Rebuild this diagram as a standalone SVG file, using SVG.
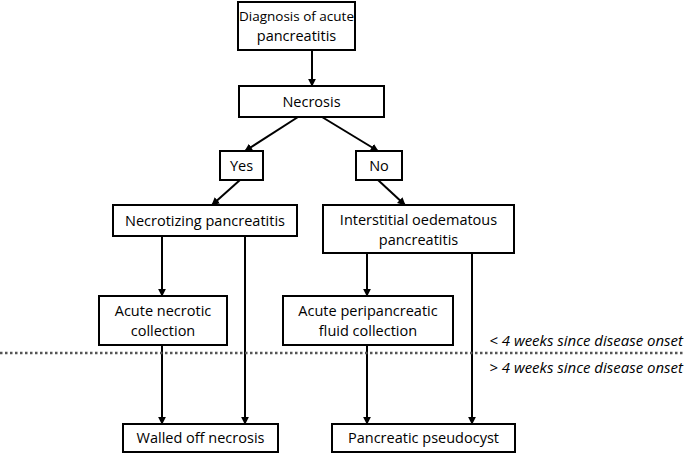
<svg xmlns="http://www.w3.org/2000/svg" width="685" height="453" viewBox="0 0 685 453">
<defs>
<marker id="ah" viewBox="0 0 10 10" refX="9" refY="5" markerWidth="8" markerHeight="8" markerUnits="userSpaceOnUse" orient="auto"><path d="M0,0 L10,5 L0,10 z" fill="#000"/></marker>
<style>
rect{fill:#fff;stroke:#000;stroke-width:2}
text{font-family:"Open Sans","Liberation Sans",sans-serif;font-size:14.5px;text-anchor:middle;fill:#000}
.n{font-style:italic;text-anchor:end;font-size:15px}
#edges line{stroke:#000;stroke-width:2;marker-end:url(#ah)}
</style>
</defs>
<rect x="0" y="0" width="685" height="453" style="fill:#fff;stroke:none"/>
<g id="edges">
<line x1="312" y1="50" x2="312" y2="86"/>
<line x1="298" y1="117" x2="245" y2="151"/>
<line x1="322" y1="117" x2="378" y2="151"/>
<line x1="240" y1="180" x2="212" y2="205"/>
<line x1="378" y1="180" x2="405" y2="205"/>
<line x1="162" y1="236" x2="162" y2="296"/>
<line x1="245" y1="236" x2="245" y2="424"/>
<line x1="367" y1="253" x2="367" y2="296"/>
<line x1="472" y1="253" x2="472" y2="424"/>
<line x1="162" y1="345" x2="162" y2="424"/>
<line x1="367" y1="345" x2="367" y2="424"/>
</g>
<g id="diag"><rect x="238" y="2" width="117" height="48"/><text x="296.5" y="21" style="font-size:13.5px">Diagnosis of acute</text><text x="296.5" y="41">pancreatitis</text></g>
<g id="necrosis"><rect x="239" y="86" width="145" height="31"/><text x="311.5" y="107">Necrosis</text></g>
<g id="yes"><rect x="220" y="151" width="43" height="29"/><text x="241.5" y="171">Yes</text></g>
<g id="no"><rect x="356" y="151" width="46" height="29"/><text x="379" y="171">No</text></g>
<g id="necp"><rect x="113" y="205" width="184" height="31"/><text x="205" y="226">Necrotizing pancreatitis</text></g>
<g id="iep"><rect x="323" y="205" width="191" height="48"/><text x="418.5" y="225">Interstitial oedematous</text><text x="418.5" y="245">pancreatitis</text></g>
<g id="anc"><rect x="99" y="296" width="128" height="49"/><text x="163" y="316">Acute necrotic</text><text x="163" y="336">collection</text></g>
<g id="apfc"><rect x="283" y="296" width="170" height="49"/><text x="368" y="316">Acute peripancreatic</text><text x="368" y="336">fluid collection</text></g>
<g id="won"><rect x="123" y="424" width="155" height="28"/><text x="200.5" y="443">Walled off necrosis</text></g>
<g id="pp"><rect x="332" y="424" width="183" height="28"/><text x="423.5" y="443">Pancreatic pseudocyst</text></g>
<line x1="0" y1="353" x2="685" y2="353" stroke="#555" stroke-width="2.5" stroke-dasharray="2.5,2.5"/>
<text class="n" x="683" y="346">&lt; 4 weeks since disease onset</text>
<text class="n" x="683" y="373">&gt; 4 weeks since disease onset</text>
</svg>
